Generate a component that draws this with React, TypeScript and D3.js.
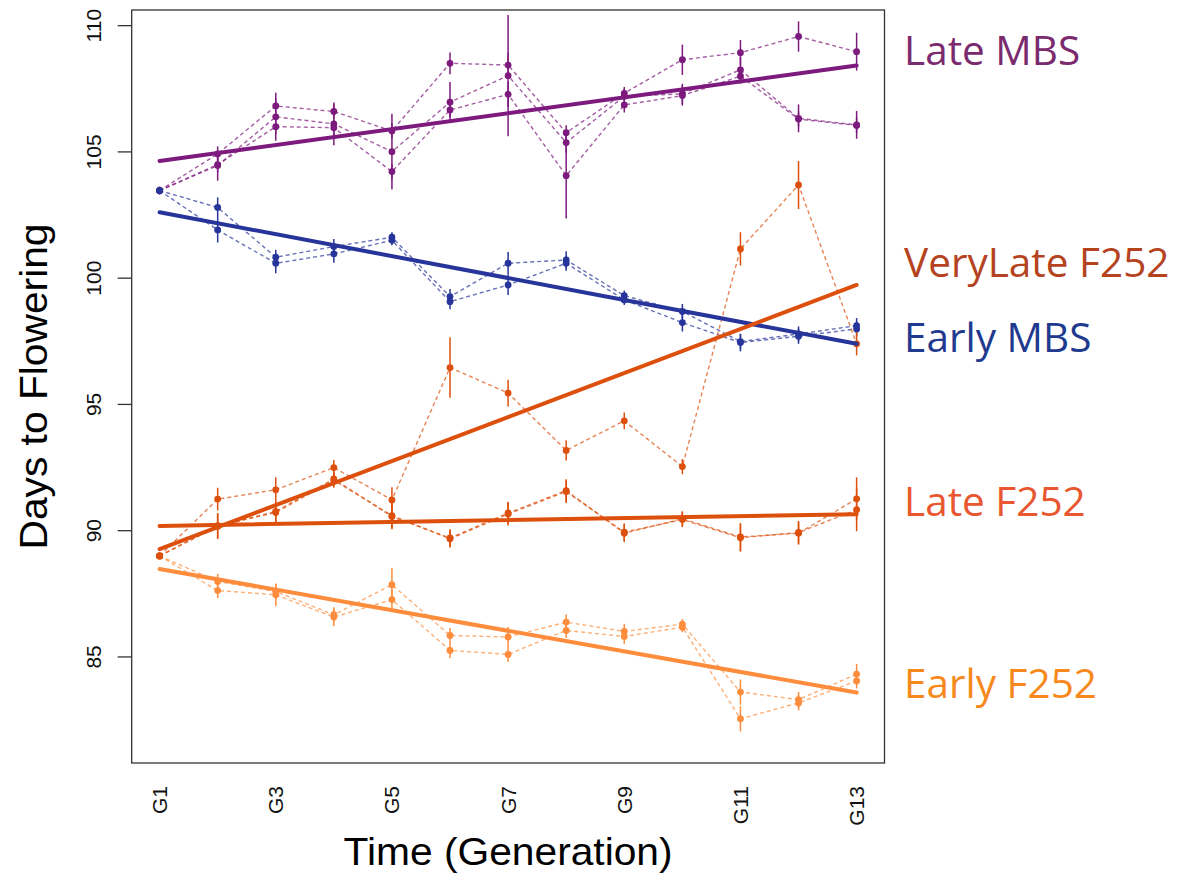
import React, { useEffect, useRef } from 'react';
import * as d3 from 'd3';

// generations on the x axis
const generations = ['G1', 'G2', 'G3', 'G4', 'G5', 'G6', 'G7', 'G8', 'G9', 'G10', 'G11', 'G12', 'G13'];
const yTicks = [85, 90, 95, 100, 105, 110];

// Late MBS replicates (days to flowering) and error half-widths
const lateMbsA = [103.47, 104.92, 106.82, 106.6, 105.83, 108.51, 108.44, 105.76, 107.32, 108.65, 108.93, 109.57, 108.97];
const lateMbsB = [103.47, 104.46, 106.39, 106.11, 105.01, 106.97, 108.02, 105.37, 107.2, 107.3, 108.25, 106.33, 106.07];
const lateMbsC = [103.47, 104.5, 106.0, 105.96, 104.22, 106.66, 107.28, 104.06, 106.86, 107.23, 108.0, 106.3, 106.05];
const lateMbsErrA = [0.15, 0.3, 0.3, 0.3, 0.3, 0.43, 0.5, 0.3, 0.25, 0.6, 0.5, 0.6, 0.75];
const lateMbsErrB = [0.15, 0.6, 0.95, 0.85, 1.5, 0.8, 2.4, 0.4, 0.3, 0.4, 0.5, 0.55, 0.55];
const lateMbsErrC = [0.15, 0.3, 0.3, 0.3, 0.3, 0.3, 0.5, 1.7, 0.3, 0.4, 0.3, 0.3, 0.3];

// Early MBS replicates
const earlyMbsA = [103.47, 102.8, 100.83, 101.25, 101.62, 99.27, 100.59, 100.72, 99.31, 98.68, 97.49, 97.79, 98.12];
const earlyMbsB = [103.47, 101.91, 100.59, 100.96, 101.5, 99.07, 99.73, 100.59, 99.14, 98.24, 97.45, 97.7, 97.99];
const earlyMbsErrA = [0.1, 0.4, 0.3, 0.3, 0.2, 0.3, 0.45, 0.35, 0.2, 0.3, 0.3, 0.3, 0.3];
const earlyMbsErrB = [0.1, 0.5, 0.4, 0.35, 0.2, 0.3, 0.4, 0.3, 0.2, 0.35, 0.35, 0.3, 0.3];

// VeryLate F252
const veryLateF252 = [89.0, 91.25, 91.62, 92.5, 91.22, 96.46, 95.45, 93.18, 94.35, 92.54, 101.16, 103.69, 97.4];
const veryLateF252Err = [0.1, 0.45, 0.5, 0.3, 0.5, 1.2, 0.53, 0.4, 0.33, 0.3, 0.66, 0.95, 0.46];

// Late F252 replicates
const lateF252A = [89.0, 90.17, 90.76, 92.05, 90.56, 89.71, 90.7, 91.59, 89.9, 90.47, 89.75, 89.9, 91.26];
const lateF252B = [89.0, 90.2, 90.72, 92.0, 90.6, 89.68, 90.66, 91.55, 89.94, 90.44, 89.72, 89.93, 90.83];
const lateF252Err = [0.1, 0.5, 0.4, 0.3, 0.5, 0.35, 0.45, 0.45, 0.35, 0.3, 0.55, 0.45, 0.85];

// Early F252 replicates
const earlyF252A = [89.0, 87.99, 87.59, 86.67, 87.86, 85.85, 85.79, 86.38, 86.01, 86.3, 83.61, 83.31, 84.32];
const earlyF252B = [89.0, 87.63, 87.46, 86.58, 87.27, 85.26, 85.1, 86.05, 85.81, 86.18, 82.55, 83.18, 84.05];
const earlyF252ErrA = [0.1, 0.3, 0.3, 0.3, 0.65, 0.3, 0.4, 0.3, 0.3, 0.2, 0.5, 0.3, 0.4];
const earlyF252ErrB = [0.1, 0.3, 0.45, 0.35, 0.4, 0.3, 0.3, 0.3, 0.3, 0.2, 0.5, 0.3, 0.3];

// fitted trend lines: value at G1 and at G13
const lateMbsTrend = [104.64, 108.42];
const earlyMbsTrend = [102.61, 97.4];
const veryLateF252Trend = [89.27, 99.73];
const lateF252Trend = [90.19, 90.65];
const earlyF252Trend = [88.48, 83.59];

const purple = '#7d1a7e';
const blue = '#27359a';
const darkOrange = '#dd4f0c';
const lightOrange = '#fd8d3c';

const groups = [
  { reps: [lateMbsA, lateMbsB, lateMbsC], errs: [lateMbsErrA, lateMbsErrB, lateMbsErrC], trend: lateMbsTrend, color: purple },
  { reps: [earlyMbsA, earlyMbsB], errs: [earlyMbsErrA, earlyMbsErrB], trend: earlyMbsTrend, color: blue },
  { reps: [earlyF252A, earlyF252B], errs: [earlyF252ErrA, earlyF252ErrB], trend: earlyF252Trend, color: lightOrange },
  { reps: [lateF252A, lateF252B], errs: [lateF252Err, lateF252Err], trend: lateF252Trend, color: darkOrange },
  { reps: [veryLateF252], errs: [veryLateF252Err], trend: veryLateF252Trend, color: darkOrange },
];

const labels = [
  { text: 'Late MBS', y: 65, color: '#7b2a6e' },
  { text: 'VeryLate F252', y: 277, color: '#b5431f' },
  { text: 'Early MBS', y: 352, color: '#1f3a8e' },
  { text: 'Late F252', y: 516, color: '#e8572f' },
  { text: 'Early F252', y: 698, color: '#f7891c' },
];

const App = () => {
  const svgRef = useRef(null);

  useEffect(() => {
    const width = 1181;
    const height = 879;
    const left = 131.7;
    const right = 884.5;
    const top = 10;
    const bottom = 763;

    const svg = d3.select(svgRef.current)
      .attr('width', width)
      .attr('height', height)
      .attr('viewBox', [0, 0, width, height]);
    svg.selectAll('*').remove();

    const x = d3.scaleLinear().domain([0.52, 13.48]).range([left, right]);
    const y = d3.scaleLinear().domain([80.8, 110.62]).range([bottom, top]);

    const line = d3.line<number>()
      .x((d, i) => x(i + 1))
      .y(d => y(d));

    // replicate lines, error bars, points
    groups.forEach(g => {
      const gg = svg.append('g');
      g.reps.forEach((rep, r) => {
        gg.append('path')
          .attr('d', line(rep))
          .attr('fill', 'none')
          .attr('stroke', g.color)
          .attr('stroke-opacity', 0.7)
          .attr('stroke-width', 1.4)
          .attr('stroke-dasharray', '4,3');
        gg.selectAll(null)
          .data(rep)
          .join('line')
          .attr('x1', (d, i) => x(i + 1))
          .attr('x2', (d, i) => x(i + 1))
          .attr('y1', (d, i) => y(d - g.errs[r][i]))
          .attr('y2', (d, i) => y(d + g.errs[r][i]))
          .attr('stroke', g.color)
          .attr('stroke-width', 1.5);
        gg.selectAll(null)
          .data(rep)
          .join('circle')
          .attr('cx', (d, i) => x(i + 1))
          .attr('cy', d => y(d))
          .attr('r', 3.4)
          .attr('fill', g.color);
      });
    });

    // trend lines
    groups.forEach(g => {
      svg.append('line')
        .attr('x1', x(1))
        .attr('x2', x(generations.length))
        .attr('y1', y(g.trend[0]))
        .attr('y2', y(g.trend[1]))
        .attr('stroke', g.color)
        .attr('stroke-width', 4)
        .attr('stroke-linecap', 'round');
    });

    // box
    svg.append('rect')
      .attr('x', left)
      .attr('y', top)
      .attr('width', right - left)
      .attr('height', bottom - top)
      .attr('fill', 'none')
      .attr('stroke', '#333')
      .attr('stroke-width', 1.3);

    // y axis ticks
    const yAxis = svg.append('g').attr('font-family', '"Liberation Sans", Arial, sans-serif');
    yAxis.selectAll('line')
      .data(yTicks)
      .join('line')
      .attr('x1', left - 14)
      .attr('x2', left)
      .attr('y1', d => y(d))
      .attr('y2', d => y(d))
      .attr('stroke', '#333')
      .attr('stroke-width', 1.3);
    yAxis.selectAll('text')
      .data(yTicks)
      .join('text')
      .attr('transform', d => `translate(101,${y(d)}) rotate(-90)`)
      .attr('text-anchor', 'middle')
      .attr('font-size', 21)
      .attr('fill', '#111')
      .text(d => d);

    // x axis labels (every other generation)
    svg.append('g')
      .attr('font-family', '"Liberation Sans", Arial, sans-serif')
      .selectAll('text')
      .data(generations.filter((d, i) => i % 2 === 0))
      .join('text')
      .attr('transform', d => `translate(${x(generations.indexOf(d) + 1) + 7.5},786) rotate(-90)`)
      .attr('text-anchor', 'end')
      .attr('font-size', 21)
      .attr('fill', '#111')
      .text(d => d);

    // axis titles
    svg.append('text')
      .attr('x', (left + right) / 2)
      .attr('y', 865)
      .attr('text-anchor', 'middle')
      .attr('font-family', '"Liberation Sans", Arial, sans-serif')
      .attr('font-size', 39)
      .attr('textLength', 329)
      .attr('lengthAdjust', 'spacingAndGlyphs')
      .text('Time (Generation)');
    svg.append('text')
      .attr('transform', `translate(47,${(top + bottom) / 2}) rotate(-90)`)
      .attr('text-anchor', 'middle')
      .attr('font-family', '"Liberation Sans", Arial, sans-serif')
      .attr('font-size', 39)
      .attr('textLength', 326)
      .attr('lengthAdjust', 'spacingAndGlyphs')
      .text('Days to Flowering');

    // group labels on the right
    svg.append('g')
      .attr('font-family', '"Open Sans", sans-serif')
      .selectAll('text')
      .data(labels)
      .join('text')
      .attr('x', 904)
      .attr('y', d => d.y)
      .attr('font-size', 40.5)
      .attr('fill', d => d.color)
      .text(d => d.text);
  }, []);

  return (
    <svg ref={svgRef} style={{ position: 'absolute', left: 0, top: 0, background: '#fff' }} />
  );
};

export default App;
